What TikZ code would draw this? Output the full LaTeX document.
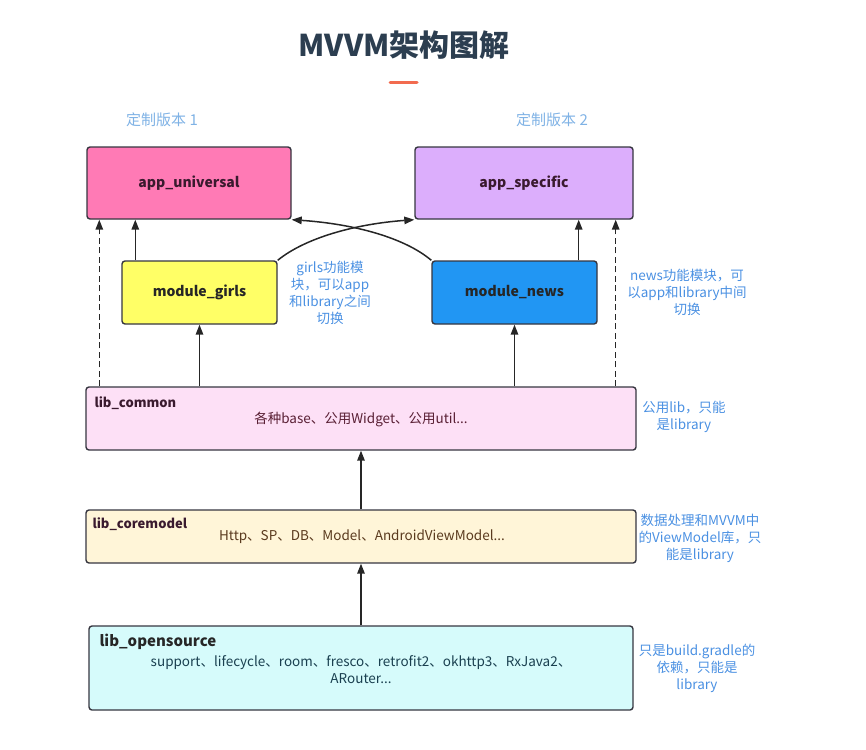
\documentclass[tikz,border=0pt]{standalone}
\usepackage{fontspec}
\setmainfont{Noto Sans CJK SC}
\usetikzlibrary{arrows.meta,calc}
\definecolor{titlec}{HTML}{2C3E50}
\definecolor{accent}{HTML}{F26B4F}
\definecolor{verc}{HTML}{7FB2E5}
\definecolor{notec}{HTML}{4A90E2}
\definecolor{linec}{HTML}{363640}
\definecolor{fU}{HTML}{FF7AB5}
\definecolor{fS}{HTML}{DCAEFC}
\definecolor{fG}{HTML}{FFFF66}
\definecolor{fN}{HTML}{2196F3}
\definecolor{fC}{HTML}{FDE0F6}
\definecolor{fM}{HTML}{FFF5D8}
\definecolor{fO}{HTML}{D6FBFB}
\definecolor{tU}{HTML}{3A1A2E}
\definecolor{tC}{HTML}{5A2035}
\definecolor{tM}{HTML}{5A3A1E}
\definecolor{tO}{HTML}{1A4050}
\begin{document}
\begin{tikzpicture}[x=1pt,y=-1pt,
  box/.style={draw=linec, line width=1.4pt, rounded corners=3pt, inner sep=0pt},
  lbl/.style={font=\fontsize{14}{17}\selectfont\bfseries, text=tU},
  note/.style={font=\fontsize{13.5}{17}\selectfont, text=notec, align=center, inner sep=0pt},
  body/.style={font=\fontsize{13.5}{17}\selectfont, align=center, inner sep=0pt},
  arr/.style={draw=black!85, line width=1.5pt, -{Triangle[length=10pt,width=7.5pt]}},
  dsh/.style={arr, dash pattern=on 6pt off 3.5pt}]
\useasboundingbox (0,0) rectangle (866,749);

% title
\node[font=\fontsize{30}{35}\selectfont\bfseries, text=titlec] (title) at (404,45) {MVVM架构图解};
\draw[accent, line width=3pt, line cap=round] (390,83) coordinate (ul1) -- (417,83) coordinate (ul2);

\node[font=\fontsize{15}{18}\selectfont, text=verc] (v1) at (162,120) {定制版本 1};
\node[font=\fontsize{15}{18}\selectfont, text=verc] (v2) at (552,120) {定制版本 2};

% boxes
\node[box, fill=fU, minimum width=204pt, minimum height=72pt, lbl] (appU) at (189,183) {app\_universal};
\node[box, fill=fS, minimum width=218pt, minimum height=72pt, lbl] (appS) at (524,183) {app\_specific};
\node[box, fill=fG, minimum width=155pt, minimum height=63pt, lbl, text=black!85] (girls) at (199.5,292.5) {module\_girls};
\node[box, fill=fN, minimum width=165pt, minimum height=63pt, lbl, text=black!85] (news) at (514.5,292.5) {module\_news};
\node[box, fill=fC, minimum width=550pt, minimum height=63pt] (common) at (361,418.5) {};
\node[box, fill=fM, minimum width=550pt, minimum height=53pt] (core) at (361,536.5) {};
\node[box, fill=fO, minimum width=544pt, minimum height=84pt] (open) at (361,668) {};

% box texts
\node[lbl, font=\fontsize{13}{16}\selectfont\bfseries, anchor=west, inner sep=0pt] (commonL) at ($(common.north west)+(9,17)$) {lib\_common};
\node[body, text=tC] (commonB) at (361,419) {各种base、公用Widget、公用util...};
\node[lbl, font=\fontsize{13}{16}\selectfont\bfseries, anchor=west, inner sep=0pt] (coreL) at ($(core.north west)+(7,15)$) {lib\_coremodel};
\node[body, text=tM] (coreB) at (362,537) {Http、SP、DB、Model、AndroidViewModel...};
\node[lbl, font=\fontsize{15}{18}\selectfont\bfseries, text=black!85, anchor=west, inner sep=0pt] (openL) at ($(open.north west)+(11,17)$) {lib\_opensource};
\node[body, text=tO] (openB) at (361,669.5) {support、lifecycle、room、fresco、retrofit2、okhttp3、RxJava2、\\ARouter...};

% notes
\node[note] (nG) at (330,293) {girls功能模\\块，可以app\\和library之间\\切换};
\node[note] (nN) at (687,292) {news功能模块，可\\以app和library中间\\切换};
\node[note] (nC) at (684,417) {公用lib，只能\\是library};
\node[note] (nM) at (700,538) {数据处理和MVVM中\\的ViewModel库，只\\能是library};
\node[note] (nO) at (697,668) {只是build.gradle的\\依赖，只能是\\library};

% arrows
\draw[dsh] ($(common.north west)+(14,0)$) coordinate (d1) -- (d1 |- appU.south);
\draw[arr] ($(girls.north west)+(14,0)$) coordinate (g1) -- (g1 |- appU.south);
\draw[arr] (common.north -| girls) -- (girls.south);
\draw[arr] (common.north -| news) -- (news.south);
\draw[arr] ($(news.north east)+(-19,0)$) coordinate (n1) -- (n1 |- appS.south);
\draw[dsh] ($(common.north east)+(-21,0)$) coordinate (d2) -- (d2 |- appS.south);
\draw[arr] (core.north) -- (common.south);
\draw[arr] (open.north) -- (core.south);
\draw[arr] (girls.north east) .. controls (305,238) and (355,224) .. (appS.south west);
\draw[arr] (news.north west) .. controls (405,238) and (355,224) .. (appU.south east);
\end{tikzpicture}
\end{document}
